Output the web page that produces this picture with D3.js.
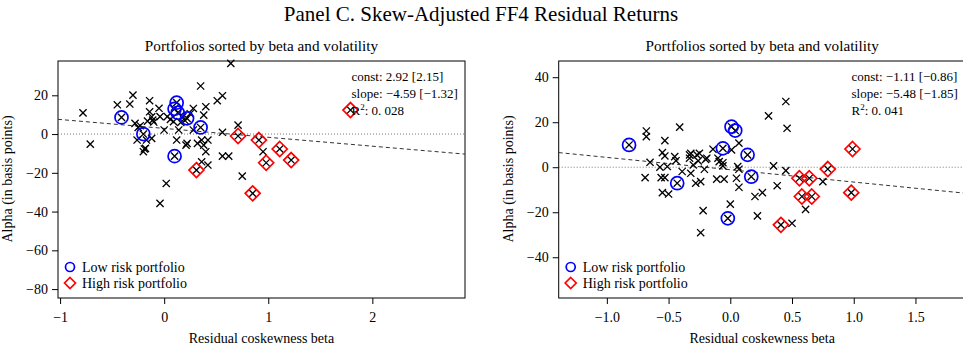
<!DOCTYPE html>
<html lang="en">
<head>
<meta charset="UTF-8">
<title>Panel C. Skew-Adjusted FF4 Residual Returns</title>
<script src="https://d3js.org/d3.v7.min.js"></script>
<style>
    body { margin: 0; background: #fff; }
    text { font-family: "Liberation Serif", "DejaVu Serif", serif; fill: #000; }
    .tick text { font-size: 14px; }
    .tick line, .domain { stroke: #000; }
</style>
</head>
<body>
<div id="chart"></div>
<script type="text/javascript">
var width = 963, height = 350;

// ---- left panel: portfolios (residual coskewness beta, alpha in bp)
var leftBeta  = [-0.78,-0.71,-0.45,-0.33,-0.30,-0.14,-0.28,-0.23,-0.25,-0.26,-0.17,-0.19,-0.20,-0.14,-0.16,-0.11,-0.12,-0.10,-0.12,-0.05,-0.04,0.00,0.03,0.06,0.09,0.14,0.12,0.22,0.21,0.28,0.28,0.32,0.36,0.42,0.38,0.40,0.35,0.40,0.38,0.51,0.56,0.64,0.56,0.71,0.36,0.42,0.56,0.62,0.95,0.75,0.02,-0.04,-0.18,0.25,0.18,0.16,0.20];
var leftAlpha = [10.9,-5.2,15.1,15.5,20.1,17.2,5.5,4.3,3.4,-3.1,-3.1,-7.7,-9.1,11.5,6.7,7.2,8.9,6.2,-2.2,13.3,9.0,2.1,9.0,7.6,6.4,2.1,-3.1,-4.8,-5.7,13.2,2.1,-4.8,-3.1,-3.1,-5.7,-9.1,24.8,14.1,9.8,17.2,19.8,36.5,0.9,4.6,-14.3,-16.0,-11.4,-11.4,-9.1,-21.7,-25.5,-35.8,-7.4,10.5,9.0,6.0,7.0];
var leftLowBeta   = [-0.41,-0.20,0.12,0.10,0.13,0.22,0.35,0.10];
var leftLowAlpha  = [8.6,0.0,16.2,13.0,11.0,8.1,3.4,-11.4];
var leftHighBeta  = [0.71,0.91,1.11,1.22,0.98,0.31,0.85,1.79];
var leftHighAlpha = [-1.0,-3.1,-7.7,-13.4,-14.8,-18.6,-30.6,12.4];
var leftStats = ["const: 2.92 [2.15]", "slope: \u22124.59 [\u22121.32]", "0. 028"];
var leftFit = [2.92, -4.59];

// ---- right panel
var rightBeta  = [-0.68,-0.68,-0.53,-0.41,0.31,0.45,0.46,-0.55,-0.53,-0.65,-0.57,-0.51,-0.69,-0.56,-0.53,-0.55,-0.50,-0.39,-0.45,-0.44,-0.33,-0.32,-0.33,-0.30,-0.32,-0.28,-0.24,-0.22,-0.24,-0.21,-0.19,-0.27,-0.26,-0.25,-0.14,-0.10,-0.09,-0.06,-0.11,-0.05,0.00,0.07,0.01,0.06,0.07,0.05,0.07,0.20,0.26,0.22,0.35,0.38,0.45,0.50,0.61,0.75,-0.20,-0.06];
var rightAlpha = [16.1,13.6,11.8,17.8,22.8,29.2,17.3,6.5,5.0,2.2,0.0,0.3,-4.6,-4.6,-4.6,-11.3,-11.9,-1.9,4.7,2.9,5.5,6.2,4.0,1.0,-2.7,-7.1,-6.4,-19.3,-29.1,-0.9,4.0,5.5,2.8,6.2,8.0,4.0,2.5,0.6,-5.3,-5.3,-16.4,10.7,7.7,0.3,-0.9,-4.9,-8.9,-13.0,-11.3,-21.6,0.6,-8.2,-1.5,-24.9,-18.7,-6.4,3.5,2.0];
var rightLowBeta   = [-0.82,0.01,0.04,-0.06,0.14,0.17,-0.43,-0.02];
var rightLowAlpha  = [9.9,18.0,16.3,8.4,5.5,-4.2,-7.1,-22.7];
var rightHighBeta  = [0.99,0.41,0.56,0.64,0.58,0.66,0.79,0.98];
var rightHighAlpha = [8.1,-25.6,-4.9,-4.9,-13.0,-13.0,-0.8,-11.3];
var rightStats = ["const: \u22121.11 [\u22120.86]", "slope: \u22125.48 [\u22121.85]", "0. 041"];
var rightFit = [-1.11, -5.48];

var svg = d3.select("#chart").append("svg")
    .attr("width", width)
    .attr("height", height);

svg.append("text")
    .attr("x", 481).attr("y", 21)
    .attr("text-anchor", "middle")
    .style("font-size", "21px")
    .text("Panel C. Skew-Adjusted FF4 Residual Returns");

function zip(a, b) { return a.map(function(d, i) { return [d, b[i]]; }); }

function drawPanel(o) {
  var x = d3.scaleLinear().domain(o.xDomain).range([o.left, o.left + 407]);
  var y = d3.scaleLinear().domain(o.yDomain).range([298, 61]);
  var g = svg.append("g");

  g.append("text")
      .attr("x", o.left + 203.5).attr("y", 51)
      .attr("text-anchor", "middle")
      .style("font-size", "15.2px")
      .text("Portfolios sorted by beta and volatility");

  // axes
  g.append("g")
      .attr("transform", "translate(0,298)")
      .call(d3.axisBottom(x).tickValues(o.xTicks).tickFormat(o.xFormat).tickSize(6).tickPadding(8).tickSizeOuter(0))
      .call(function(a) { a.select(".domain").remove(); });
  g.append("g")
      .attr("transform", "translate(" + o.left + ",0)")
      .call(d3.axisLeft(y).tickValues(o.yTicks).tickFormat(d3.format("d")).tickSize(6).tickPadding(4).tickSizeOuter(0))
      .call(function(a) { a.select(".domain").remove(); });

  g.append("rect")
      .attr("x", o.left).attr("y", 61)
      .attr("width", 407).attr("height", 237)
      .attr("fill", "none").attr("stroke", "#000").attr("stroke-width", 1);

  g.append("text")
      .attr("x", o.left + 203.5).attr("y", 343)
      .attr("text-anchor", "middle")
      .style("font-size", "14px")
      .text("Residual coskewness beta");
  g.append("text")
      .attr("transform", "translate(" + (o.left - 46) + ",179) rotate(-90)")
      .attr("text-anchor", "middle")
      .style("font-size", "14px")
      .text("Alpha (in basis points)");

  var plot = g.append("g");

  // zero line and fitted line
  plot.append("line")
      .attr("x1", x.range()[0]).attr("x2", x.range()[1])
      .attr("y1", y(0)).attr("y2", y(0))
      .attr("stroke", "#555").attr("stroke-width", 0.8).attr("stroke-dasharray", "1,2");
  var fit = d3.line()
      .x(function(d) { return x(d); })
      .y(function(d) { return y(o.fit[0] + o.fit[1] * d); });
  plot.append("path")
      .attr("d", fit(o.xDomain))
      .attr("fill", "none").attr("stroke", "#333").attr("stroke-width", 1)
      .attr("stroke-dasharray", "4,3");

  var all = zip(o.beta, o.alpha).concat(zip(o.lowBeta, o.lowAlpha), zip(o.highBeta, o.highAlpha));

  plot.selectAll(".cross")
      .data(all)
    .enter().append("path")
      .attr("class", "cross")
      .attr("transform", function(d) { return "translate(" + x(d[0]) + "," + y(d[1]) + ")"; })
      .attr("d", "M-3.6,-3.6L3.6,3.6M-3.6,3.6L3.6,-3.6")
      .attr("stroke", "#000").attr("stroke-width", 1.3).attr("fill", "none");

  plot.selectAll(".low")
      .data(zip(o.lowBeta, o.lowAlpha))
    .enter().append("circle")
      .attr("cx", function(d) { return x(d[0]); })
      .attr("cy", function(d) { return y(d[1]); })
      .attr("r", 6.5)
      .attr("fill", "none").attr("stroke", "#0000ff").attr("stroke-width", 1.7);

  plot.selectAll(".high")
      .data(zip(o.highBeta, o.highAlpha))
    .enter().append("path")
      .attr("transform", function(d) { return "translate(" + x(d[0]) + "," + y(d[1]) + ")"; })
      .attr("d", "M0,-7.5L7.5,0L0,7.5L-7.5,0Z")
      .attr("fill", "none").attr("stroke", "#ff0000").attr("stroke-width", 1.7);

  // stats
  var sx = o.statsX;
  g.append("text").attr("x", sx).attr("y", 81).style("font-size", "13px").text(o.stats[0]);
  g.append("text").attr("x", sx).attr("y", 98).style("font-size", "13px").text(o.stats[1]);
  var r2 = g.append("text").attr("x", sx).attr("y", 115).style("font-size", "13px");
  r2.append("tspan").text("R");
  r2.append("tspan").attr("dy", -5).style("font-size", "9px").text("2");
  r2.append("tspan").attr("dy", 5).text(": " + o.stats[2]);

  // legend
  var lx = o.left + 12;
  g.append("circle").attr("cx", lx).attr("cy", 267).attr("r", 4.5)
      .attr("fill", "none").attr("stroke", "#0000ff").attr("stroke-width", 1.7);
  g.append("path").attr("transform", "translate(" + lx + ",283)")
      .attr("d", "M0,-5.5L5.5,0L0,5.5L-5.5,0Z")
      .attr("fill", "none").attr("stroke", "#ff0000").attr("stroke-width", 1.7);
  g.append("text").attr("x", lx + 12).attr("y", 271.5).style("font-size", "14px").text("Low risk portfolio");
  g.append("text").attr("x", lx + 12).attr("y", 287.5).style("font-size", "14px").text("High risk portfolio");
}

drawPanel({
  left: 58, xDomain: [-1.02, 2.89], yDomain: [-84.6, 37.7],
  xTicks: [-1, 0, 1, 2], xFormat: d3.format("d"), yTicks: [-80, -60, -40, -20, 0, 20],
  beta: leftBeta, alpha: leftAlpha, lowBeta: leftLowBeta, lowAlpha: leftLowAlpha,
  highBeta: leftHighBeta, highAlpha: leftHighAlpha,
  fit: leftFit, stats: leftStats, statsX: 351.5
});

drawPanel({
  left: 558.7, xDomain: [-1.39, 1.907], yDomain: [-58.1, 47.2],
  xTicks: [-1, -0.5, 0, 0.5, 1, 1.5], xFormat: d3.format(".1f"), yTicks: [-40, -20, 0, 20, 40],
  beta: rightBeta, alpha: rightAlpha, lowBeta: rightLowBeta, lowAlpha: rightLowAlpha,
  highBeta: rightHighBeta, highAlpha: rightHighAlpha,
  fit: rightFit, stats: rightStats, statsX: 851.5
});
</script>
</body>
</html>
